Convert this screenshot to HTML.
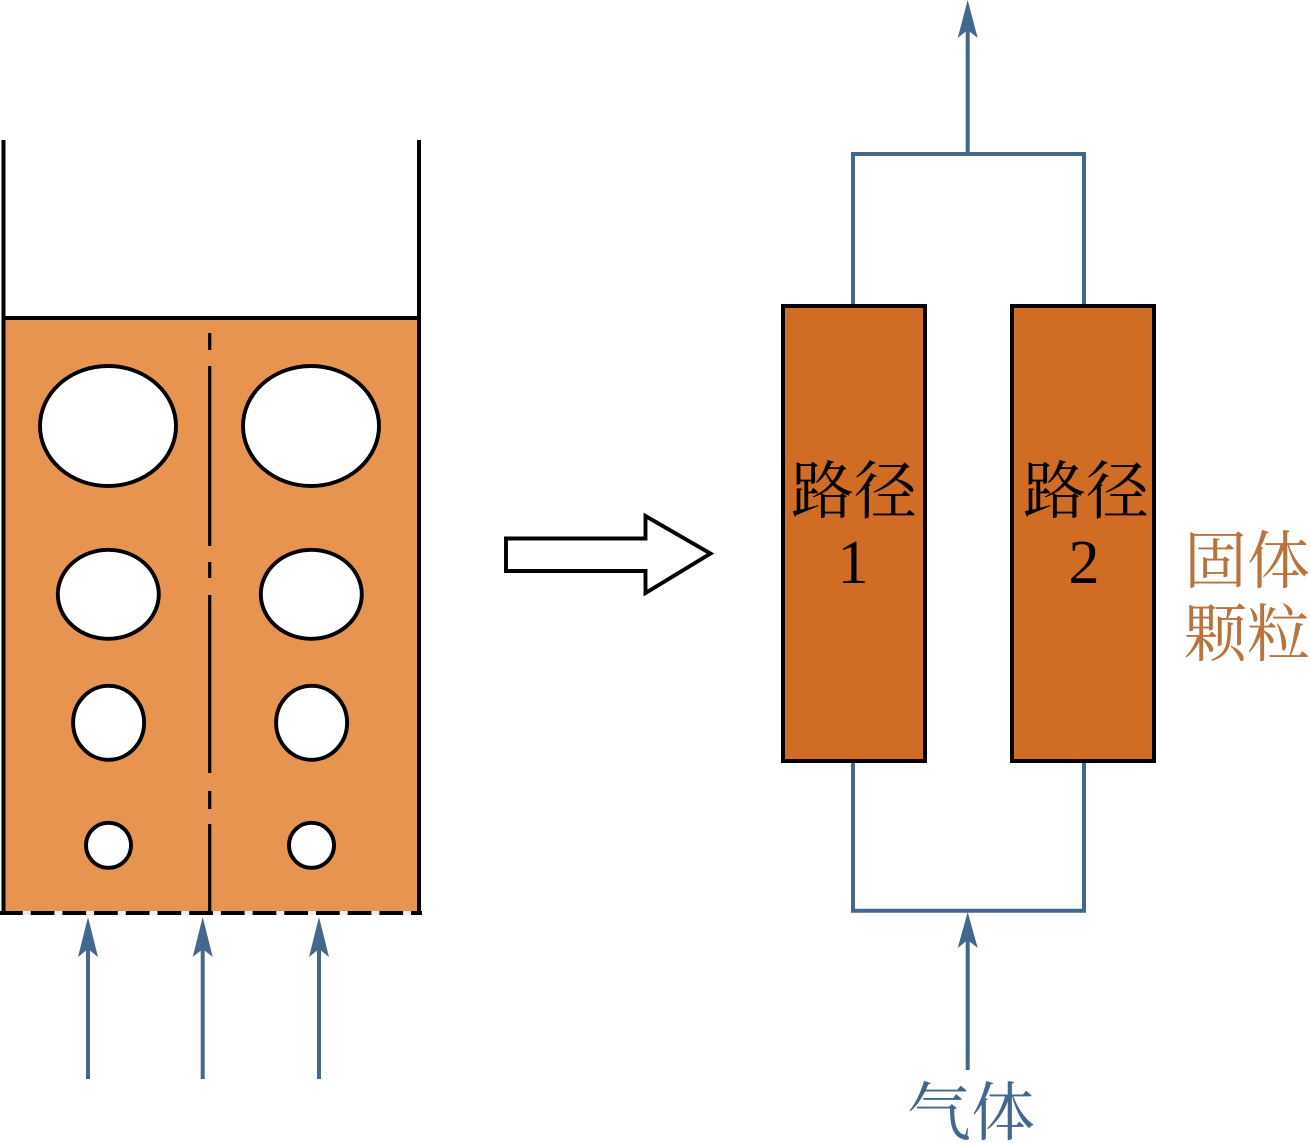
<!DOCTYPE html>
<html>
<head>
<meta charset="utf-8">
<style>
html,body{margin:0;padding:0;background:#fff;width:1310px;height:1143px;overflow:hidden}
svg{display:block}
text{font-family:"Noto Serif CJK SC","Liberation Serif",serif}
.n{font-family:"Liberation Serif",serif}
</style>
</head>
<body>
<svg width="1310" height="1143" viewBox="0 0 1310 1143" xmlns="http://www.w3.org/2000/svg">
<rect x="3.5" y="318" width="415.5" height="595" fill="#E6944F"/>
<path d="M3.5 140V913M419 140V913M2 318H421" fill="none" stroke="#000" stroke-width="4"/>
<g fill="#fff" stroke="#000" stroke-width="3.9">
<ellipse cx="108" cy="426" rx="68" ry="60"/>
<ellipse cx="311" cy="426" rx="68" ry="60"/>
<ellipse cx="108.3" cy="594.3" rx="50.5" ry="44.5"/>
<ellipse cx="311.3" cy="594.3" rx="50.5" ry="44.5"/>
<ellipse cx="108.6" cy="722.8" rx="35.5" ry="37"/>
<ellipse cx="311.6" cy="722.8" rx="35.5" ry="37"/>
<ellipse cx="108.5" cy="845.3" rx="22.5" ry="22.5"/>
<ellipse cx="311.5" cy="845.3" rx="22.5" ry="22.5"/>
</g>
<path d="M209.7 333V350M209.7 366V546M209.7 562V578M209.7 595V773M209.7 791V809M209.7 824V913" fill="none" stroke="#000" stroke-width="3.2"/>
<path d="M-1 913H422" fill="none" stroke="#FBEBDD" stroke-width="4"/>
<path d="M-1 913H422" fill="none" stroke="#000" stroke-width="4" stroke-dasharray="23.7 8"/>
<g fill="none" stroke="#44678E" stroke-width="4">
<path d="M88 1079V940M202.7 1079V940M319 1079V940"/>
<path d="M967.7 1070V930M967.7 153V22"/>
<path d="M853 306V154H1084V306M853 760V910.7H1084V760"/>
</g>
<g fill="#44678E">
<path d="M88 917L98 957L88 949L78 957Z"/>
<path d="M202.7 917L212.7 957L202.7 949L192.7 957Z"/>
<path d="M319 917L329 957L319 949L309 957Z"/>
<path d="M967.7 912L977.7 948L967.7 940L957.7 948Z"/>
<path d="M967.7 0L977.7 38L967.7 30L957.7 38Z"/>
</g>
<path d="M506 538.5H645.5V516L710.5 553.5L645.5 593V571H506Z" fill="#fff" stroke="#000" stroke-width="3.9"/>
<rect x="783" y="306" width="142" height="455" fill="#D06C23" stroke="#000" stroke-width="4"/>
<rect x="1012" y="306" width="142" height="455" fill="#D06C23" stroke="#000" stroke-width="4"/>
<text x="791" y="513" font-size="63" fill="#000">路径</text>
<text x="1023" y="513" font-size="63" fill="#000">路径</text>
<text class="n" x="853" y="583" font-size="62" text-anchor="middle" fill="#000">1</text>
<text class="n" x="1084" y="583" font-size="62" text-anchor="middle" fill="#000">2</text>
<text x="1184" y="583" font-size="63" fill="#B8733E">固体</text>
<text x="1184" y="656" font-size="63" fill="#B8733E">颗粒</text>
<text x="907" y="1135" font-size="64" fill="#44678E">气体</text>
</svg>
</body>
</html>
